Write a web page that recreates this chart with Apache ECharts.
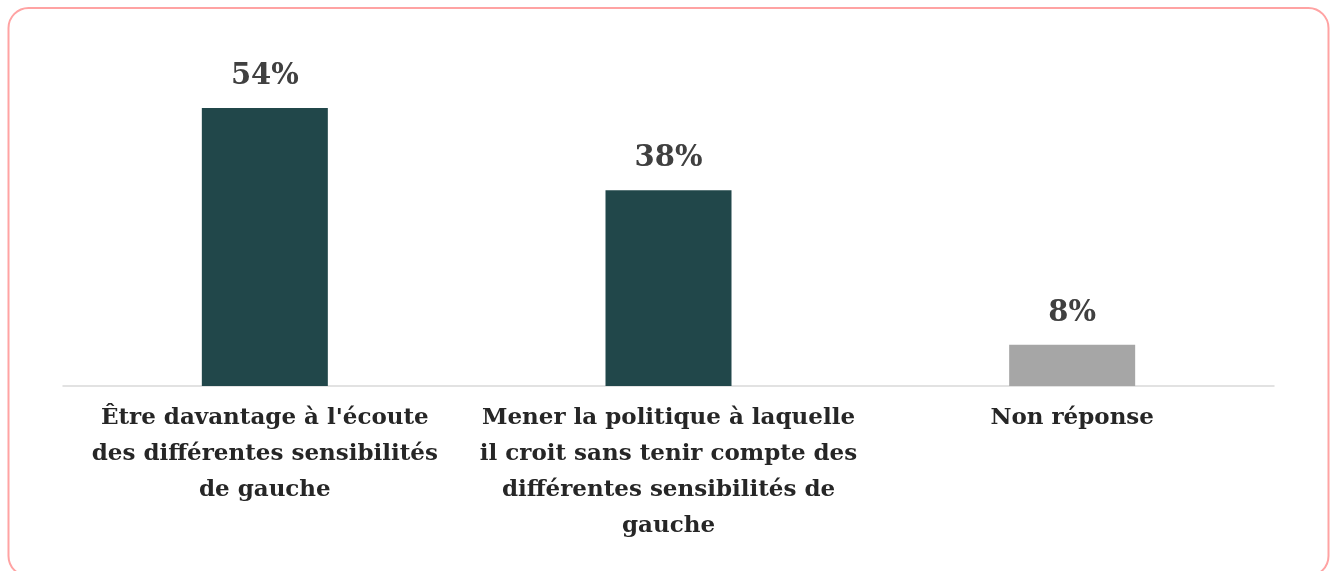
<!DOCTYPE html>
<html>
<head>
<meta charset="utf-8">
<script src="https://cdn.jsdelivr.net/npm/echarts@6/dist/echarts.min.js"></script>
<style>
  html, body { margin: 0; padding: 0; background: #fff; }
  #chart { width: 1334px; height: 571px; }
</style>
</head>
<body>
<div id="chart"></div>
<script>
  // categories (line breaks as in the original)
  var categories = [
    "Être davantage à l'écoute\ndes différentes sensibilités\nde gauche",
    "Mener la politique à laquelle\nil croit sans tenir compte des\ndifférentes sensibilités de\ngauche",
    "Non réponse"
  ];
  var values = [54, 38, 8];
  var barColors = ['#21474a', '#21474a', '#a6a6a6'];

  var chart = echarts.init(document.getElementById('chart'));

  var seriesData = values.map(function (v, i) {
    return { value: v, itemStyle: { color: barColors[i] } };
  });

  chart.setOption({
    animation: false,
    // rounded frame around the chart (bottom edge runs just past the picture)
    graphic: [{
      type: 'rect',
      shape: { x: 8.5, y: 8, width: 1320, height: 568, r: 20 },
      style: { fill: 'none', stroke: '#ffa3a3', lineWidth: 2 },
      z: 0
    }],
    grid: { left: 63, right: 60, top: 77, bottom: 185 },
    xAxis: {
      type: 'category',
      data: categories,
      axisTick: { show: false },
      axisLine: { lineStyle: { color: '#d9d9d9', width: 1.5 } },
      axisLabel: {
        interval: 0,
        margin: 14,
        color: '#262626',
        fontFamily: 'DejaVu Serif',
        fontWeight: 'bold',
        fontSize: 23,
        lineHeight: 36,
        align: 'center'
      }
    },
    yAxis: {
      type: 'value',
      min: 0,
      max: 60,
      show: false,
      splitLine: { show: false }
    },
    series: [{
      type: 'bar',
      barWidth: 126,
      data: seriesData,
      label: {
        show: true,
        position: 'top',
        distance: 17,
        formatter: '{c}%',
        color: '#404040',
        fontFamily: 'DejaVu Serif',
        fontWeight: 'bold',
        fontSize: 29
      }
    }]
  });
</script>
</body>
</html>
